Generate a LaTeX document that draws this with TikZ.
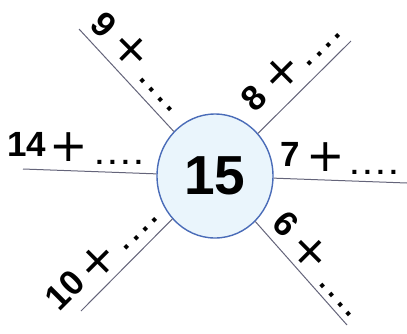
\documentclass[tikz,border=0pt]{standalone}
\usepackage{fontspec}
\setmainfont{Liberation Sans}
\newfontfamily\plusfont{DejaVu Sans}
\usetikzlibrary{shapes.geometric}
\definecolor{raycol}{HTML}{64647A}
\definecolor{ringcol}{HTML}{4A6CB8}
\definecolor{fillcol}{HTML}{EAF5FC}
\newcommand\dotline{.\hspace{5.2pt}.\hspace{5.2pt}.\hspace{5.2pt}.}
\begin{document}
\begin{tikzpicture}[x=1pt,y=-1pt,
  ray/.style={draw=raycol, line width=1pt},
  num/.style={font=\fontsize{35}{35}\selectfont\bfseries, inner sep=0pt},
  plussign/.style={font=\plusfont\fontsize{46}{46}\selectfont, inner sep=0pt},
  dotrow/.style={font=\fontsize{28}{28}\selectfont\bfseries, inner sep=0pt},
  hub/.style={ellipse, draw=ringcol, line width=1.4pt, fill=fillcol,
    minimum width=116pt, minimum height=124pt, inner sep=0pt,
    font=\fontsize{55}{55}\selectfont\bfseries}
]
\useasboundingbox (0,0) rectangle (407,333);
\node[hub] (c) at (215,176) {15};
\coordinate (eL) at (23,169);
\coordinate (eR) at (407,183);
\coordinate (eTL) at (79,29);
\coordinate (eTR) at (351,41);
\coordinate (eBL) at (81,311);
\coordinate (eBR) at (347,325);
\foreach \e in {eL,eR,eTL,eTR,eBL,eBR} \draw[ray] (c) -- (\e);
% left
\node[num] (n14) at (27,144) {14};
\node[plussign] (p14) at (69,147) {+};
\node[dotrow] (d14) at (119,162) {\dotline};
% right
\node[num] (n7) at (290,154) {7};
\node[plussign] (p7) at (326,157) {+};
\node[dotrow] (d7) at (374,172) {\dotline};
% top left
\node[num, rotate=-45] (n9) at (104,25) {9};
\node[plussign, rotate=-45] (p9) at (131,50) {+};
\node[dotrow, rotate=-47] (d9) at (156,95) {\dotline};
% top right
\node[num, rotate=45] (n8) at (254,98) {8};
\node[plussign, rotate=45] (p8) at (282,73) {+};
\node[dotrow, rotate=45] (d8) at (324,50) {\dotline};
% bottom left
\node[num, rotate=45] (n10) at (65,290) {10};
\node[plussign, rotate=45] (p10) at (98,262) {+};
\node[dotrow, rotate=45] (d10) at (141,234) {\dotline};
% bottom right
\node[num, rotate=-45] (n6) at (286,224) {6};
\node[plussign, rotate=-45] (p6) at (310,252) {+};
\node[dotrow, rotate=-48] (d6) at (336,300) {\dotline};
\end{tikzpicture}
\end{document}
